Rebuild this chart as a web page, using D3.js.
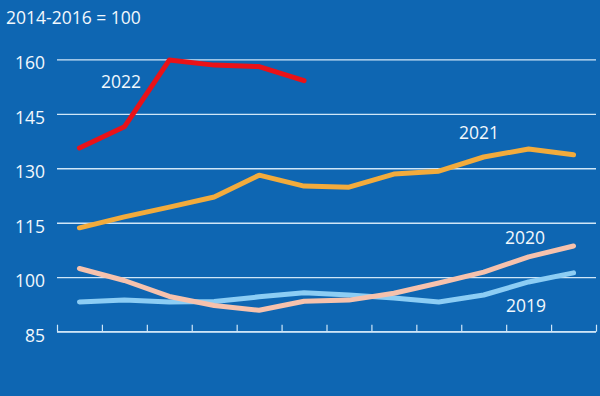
<!DOCTYPE html>
<html><head><meta charset="utf-8">
<script src="https://cdn.jsdelivr.net/npm/d3@7"></script>
<style>
html,body{margin:0;padding:0;background:#0e66b2;}
svg{display:block;}
text{font-family:"Open Sans","Noto Sans",sans-serif;}
</style></head>
<body>
<svg id="chart" width="600" height="396"></svg>
<script>
const months = ["Jan","Feb","Mar","Apr","May","Jun","Jul","Aug","Sep","Oct","Nov","Dec"];
const yTicks = [85, 100, 115, 130, 145, 160];
const s2019 = [93.2, 93.7, 93.2, 93.3, 94.6, 95.7, 95.1, 94.3, 93.2, 95.1, 98.7, 101.2];
const s2020 = [102.4, 99.1, 94.7, 92.2, 90.9, 93.4, 93.7, 95.6, 98.4, 101.4, 105.6, 108.6];
const s2021 = [113.6, 116.6, 119.3, 122.1, 128.1, 125.1, 124.8, 128.4, 129.2, 133.1, 135.3, 133.7];
const s2022 = [135.6, 141.4, 159.8, 158.4, 158.0, 154.1];
const seriesNames = ["2019", "2020", "2021", "2022"];

const series = [
  {name: seriesNames[0], values: s2019, color: "#8ccdf4", label: [526, 312]},
  {name: seriesNames[1], values: s2020, color: "#f6c2ad", label: [525, 244]},
  {name: seriesNames[2], values: s2021, color: "#f2ab3c", label: [479, 139]},
  {name: seriesNames[3], values: s2022, color: "#ea1218", label: [121, 88]}
];

const svg = d3.select("#chart");
svg.append("rect").attr("width", 600).attr("height", 396).attr("fill", "#0e66b2");

const x0 = 57, x1 = 596;
const x = d3.scaleBand().domain(months).range([x0, x1]).padding(0);
const xb = d3.scaleLinear().domain([0, months.length]).range([x0, x1]);
const y = d3.scaleLinear().domain([85, 160]).range([331.7, 59.3]);

const gridColor = "#cfe6f7";
const textColor = "#f2f8fd";
const fs = 17.5;

// gridlines + y labels
const gy = svg.append("g").attr("transform", `translate(${x0},0)`)
  .call(d3.axisLeft(y).tickValues(yTicks).tickSize(-(x1 - x0)).tickPadding(12).tickFormat(d3.format("d")));
gy.select(".domain").remove();
gy.selectAll(".tick line").attr("stroke", gridColor).attr("stroke-width", 1.3);
gy.selectAll(".tick text").attr("fill", textColor).attr("font-size", fs).attr("dy", "0.55em")
  .attr("font-family", "'Open Sans','Noto Sans',sans-serif");

// x axis ticks
const gx = svg.append("g").attr("transform", `translate(0,${y(85)})`)
  .call(d3.axisBottom(xb).tickValues(d3.range(0, months.length + 1)).tickSize(-7).tickFormat(""));
gx.select(".domain").attr("stroke", gridColor).attr("stroke-width", 1.3).attr("d", `M${x0},0H${x1}`);
gx.selectAll(".tick line").attr("stroke", gridColor).attr("stroke-width", 1.2);

// lines
const line = d3.line()
  .x((d, i) => x(months[i]) + x.bandwidth() / 2)
  .y(d => y(d));

series.forEach(s => {
  svg.append("path").datum(s.values)
    .attr("d", line)
    .attr("fill", "none")
    .attr("stroke", s.color)
    .attr("stroke-width", 5)
    .attr("stroke-linejoin", "round")
    .attr("stroke-linecap", "round");
});

series.forEach(s => {
  svg.append("text").attr("x", s.label[0]).attr("y", s.label[1])
    .attr("text-anchor", "middle")
    .attr("fill", textColor).attr("font-size", fs)
    .text(s.name);
});

svg.append("text").attr("x", 6).attr("y", 23.5)
  .attr("fill", textColor).attr("font-size", fs)
  .text("2014-2016 = 100");
</script>
</body></html>
